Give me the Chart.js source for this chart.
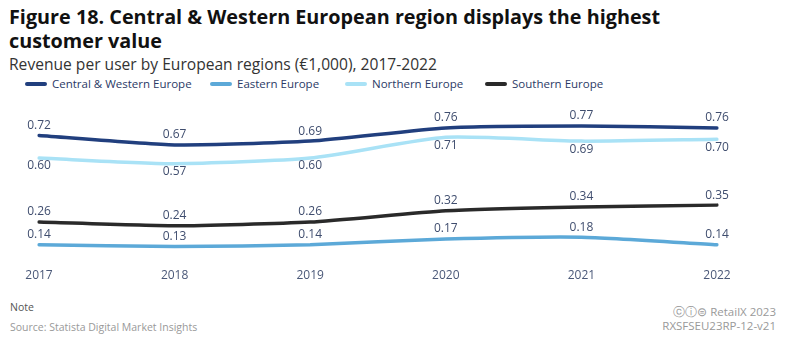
<!DOCTYPE html>
<html>
<head>
<meta charset="utf-8">
<script src="https://cdn.jsdelivr.net/npm/chart.js@4.4.1/dist/chart.umd.min.js"></script>
<style>
  body { margin: 0; width: 788px; height: 342px; background: #fff; font-family: "Open Sans", sans-serif; position: relative; overflow: hidden; }
  .title { position: absolute; left: 9px; top: 5px; font-size: 19.8px; font-weight: bold; color: #111; line-height: 24px; }
  .subtitle { position: absolute; left: 9px; top: 53px; font-size: 15.6px; color: #333; }
  .legend { position: absolute; left: 25px; top: 76px; font-size: 11.5px; color: #2b3a66; }
  .legend span.item { position: absolute; white-space: nowrap; }
  .legend i { display: inline-block; width: 22px; height: 4px; border-radius: 2px; vertical-align: middle; margin-right: 5px; position: relative; top: -1px; }
  #wrap { position: absolute; left: 0; top: 100px; width: 788px; height: 194px; }
  .note { position: absolute; left: 10px; top: 300px; font-size: 10.5px; color: #555; }
  .source { position: absolute; left: 10px; top: 320px; font-size: 10.5px; color: #999; }
  .copy { position: absolute; right: 12px; top: 305px; font-size: 11.5px; color: #999; text-align: right; line-height: 14px; }
</style>
</head>
<body>
<div class="title">Figure 18. Central &amp; Western European region displays the highest<br>customer value</div>
<div class="subtitle">Revenue per user by European regions (€1,000), 2017-2022</div>
<div class="legend" id="legend"></div>
<div id="wrap"><canvas id="lineChart"></canvas></div>
<div class="note">Note</div>
<div class="source">Source: Statista Digital Market Insights</div>
<div class="copy">ⓒⓘ⊜ RetailX 2023<br>RXSFSEU23RP-12-v21</div>
<script>
const years = ["2017", "2018", "2019", "2020", "2021", "2022"];
const centralWestern = [0.72, 0.67, 0.69, 0.76, 0.77, 0.76];
const eastern = [0.14, 0.13, 0.14, 0.17, 0.18, 0.14];
const northern = [0.60, 0.57, 0.60, 0.71, 0.69, 0.70];
const southern = [0.26, 0.24, 0.26, 0.32, 0.34, 0.35];

const seriesNames = ["Central & Western Europe", "Eastern Europe", "Northern Europe", "Southern Europe"];
const seriesColors = ["#213f7e", "#5ca9d8", "#a9e2f6", "#2a2a2a"];
const labelSide = ["above", "above", "below", "above"];
const legendX = [0, 185, 320, 460];

// legend
const legend = document.getElementById("legend");
seriesNames.forEach((name, i) => {
  const s = document.createElement("span");
  s.className = "item";
  s.style.left = legendX[i] + "px";
  s.innerHTML = '<i style="background:' + seriesColors[i] + '"></i>' + name.replace("&", "&amp;");
  legend.appendChild(s);
});

// simple value labels
const valueLabels = {
  id: "valueLabels",
  afterDatasetsDraw(chart) {
    const c = chart.ctx;
    c.save();
    c.font = "12px 'Open Sans'";
    c.fillStyle = "#3f4d6e";
    c.textAlign = "center";
    c.textBaseline = "middle";
    chart.data.datasets.forEach((ds, i) => {
      chart.getDatasetMeta(i).data.forEach((pt, j) => {
        const dy = labelSide[i] === "above" ? -10 : 8;
        c.fillText(ds.data[j].toFixed(2), pt.x, pt.y + dy);
      });
    });
    c.restore();
  },
};

const allSeries = [centralWestern, eastern, northern, southern];

const ctx = document.getElementById("lineChart").getContext("2d");
const lineChart = new Chart(ctx, {
  type: "line",
  data: {
    labels: years,
    datasets: allSeries.map((d, i) => ({
      label: seriesNames[i],
      data: d,
      borderColor: seriesColors[i],
      backgroundColor: seriesColors[i],
      borderWidth: 3.5,
      pointRadius: 0,
      tension: 0.2,
      borderCapStyle: "round",
    })),
  },
  plugins: [valueLabels],
  options: {
    responsive: true,
    maintainAspectRatio: false,
    animation: false,
    layout: { padding: { left: 39, right: 71, top: 11, bottom: 4 } },
    plugins: {
      legend: { display: false },
      tooltip: { enabled: false },
    },
    scales: {
      x: {
        grid: { display: false, drawTicks: false },
        border: { display: false },
        ticks: { color: "#4a5878", font: { size: 12, family: "Open Sans" }, padding: 7, maxRotation: 0 },
      },
      y: {
        display: false,
        min: 0.05,
        max: 0.85,
      },
    },
  },
});
</script>
</body>
</html>
